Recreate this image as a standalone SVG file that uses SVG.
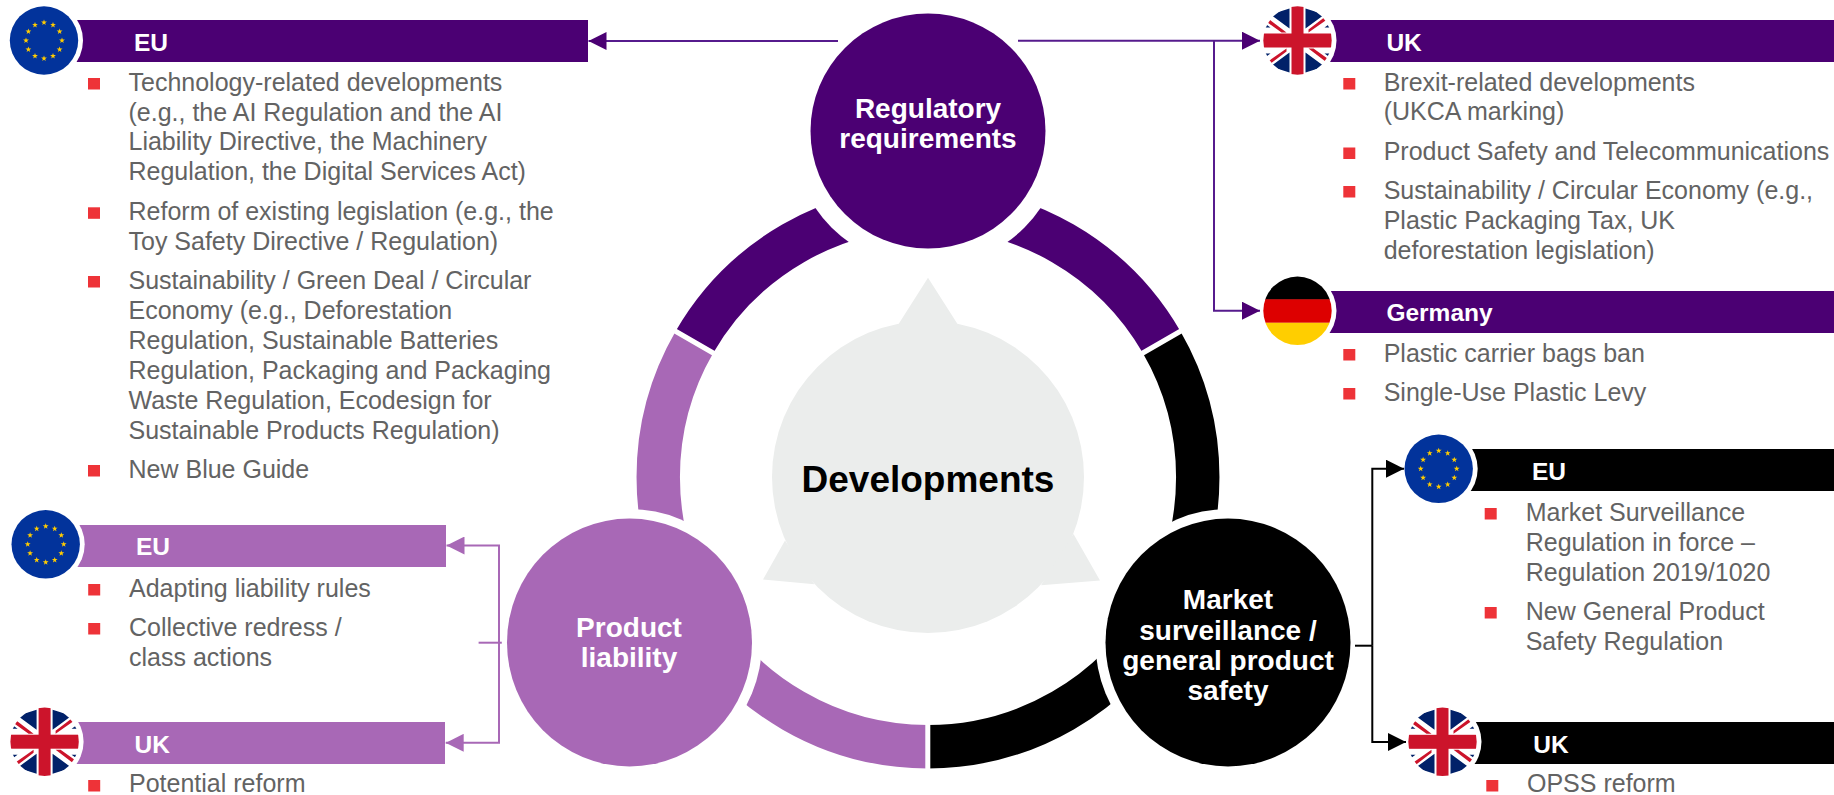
<svg xmlns="http://www.w3.org/2000/svg" width="1834" height="795" viewBox="0 0 1834 795">
<style>
text{font-family:"Liberation Sans",Arial,sans-serif}
.li{font-size:25px;fill:#636363}
.hd{font-size:24.5px;font-weight:bold;fill:#fff}
.nd{font-size:28px;font-weight:bold;fill:#fff;text-anchor:middle}
.sq{fill:#EE3338}
.dp{fill:#4B0073}.lp{fill:#A868B6}.bk{fill:#000}
.c{fill:none;stroke-width:2}
.cp{stroke:#561B8D}.cl{stroke:#A868B6}.cb{stroke:#000}
</style>
<defs>
<marker id="mp" markerUnits="userSpaceOnUse" markerWidth="18" markerHeight="18" refX="18" refY="9" orient="auto"><path d="M0 0L18 9L0 18Z" fill="#4B0073"/></marker>
<marker id="ml" markerUnits="userSpaceOnUse" markerWidth="18" markerHeight="18" refX="18" refY="9" orient="auto"><path d="M0 0L18 9L0 18Z" fill="#A868B6"/></marker>
<marker id="mb" markerUnits="userSpaceOnUse" markerWidth="18" markerHeight="18" refX="18" refY="9" orient="auto"><path d="M0 0L18 9L0 18Z" fill="#000"/></marker>
<clipPath id="fc"><circle r="34.2"/></clipPath>
<path id="st" d="M0-3L.75-1L2.9-1L1.15.4L1.8 2.5L0 1.25L-1.8 2.5L-1.15.4L-2.9-1L-.75-1Z" fill="#FFCC00"/>
<g id="eu">
<circle r="39" fill="#fff"/><circle r="34.2" fill="#02339B"/>
<use href="#st" x="0" y="-18"/><use href="#st" x="9" y="-15.6"/><use href="#st" x="15.6" y="-9"/><use href="#st" x="18" y="0"/><use href="#st" x="15.6" y="9"/><use href="#st" x="9" y="15.6"/><use href="#st" x="0" y="18"/><use href="#st" x="-9" y="15.6"/><use href="#st" x="-15.6" y="9"/><use href="#st" x="-18" y="0"/><use href="#st" x="-15.6" y="-9"/><use href="#st" x="-9" y="-15.6"/>
</g>
<g id="uk">
<circle r="39" fill="#fff"/>
<g clip-path="url(#fc)">
<rect x="-35" y="-35" width="70" height="70" fill="#fff"/>
<path d="M-8-32L-8-12L-27-26Z M8-32L8-12L27-26Z M-8 32L-8 12L-27 26Z M8 32L8 12L27 26Z M-34-13L-27-13L-34-18Z M34-13L27-13L34-18Z M-34 13L-27 13L-34 18Z M34 13L27 13L34 18Z" fill="#012169"/>
<path d="M-28-21L-11-8L-16-8L-30-18Z M28-24L11-11L11-8L31-22Z M-28 24L-11 11L-11 8L-31 22Z M28 21L11 8L16 8L30 18Z" fill="#CC142B"/>
<rect x="-35" y="-7" width="70" height="14" fill="#CC142B"/>
<rect x="-6" y="-35" width="12" height="70" fill="#CC142B"/>
</g>
</g>
<g id="de">
<circle r="39" fill="#fff"/>
<g clip-path="url(#fc)">
<rect x="-35" y="-35" width="70" height="24" fill="#000"/>
<rect x="-35" y="-11.5" width="70" height="23.5" fill="#DD0000"/>
<rect x="-35" y="12" width="70" height="24" fill="#FFCE00"/>
</g>
</g>
</defs>

<g id="ring">
<path d="M694.4 342.1A269.7 269.7 0 0 1 1161.6 342.1" fill="none" stroke="#4B0073" stroke-width="43.4"/>
<path d="M1161.6 342.1A269.7 269.7 0 0 1 928 746.7" fill="none" stroke="#000" stroke-width="43.4"/>
<path d="M928 746.7A269.7 269.7 0 0 1 694.4 342.1" fill="none" stroke="#A868B6" stroke-width="43.4"/>
<path d="M927.8 700V790M659.5 322L728.8 362M1196.5 322L1127.2 362" stroke="#fff" stroke-width="5" fill="none"/>
<circle cx="928" cy="131" r="136.5" fill="#fff"/>
<ellipse cx="629.5" cy="642.5" rx="132.5" ry="133.5" fill="#fff"/>
<ellipse cx="1228" cy="642.5" rx="132.5" ry="133.5" fill="#fff"/>
</g>

<g id="center">
<circle cx="928" cy="477" r="156" fill="#EBEDEC"/>
<path d="M928 277.8L957.5 324.1H898.6Z M763 579.6L785 540.5L814.4 584.2Z M1100 580.4L1073.5 534.1L1041 585.3Z" fill="#EBEDEC"/>
<text x="928" y="492" font-size="37" font-weight="bold" text-anchor="middle" fill="#000">Developments</text>
</g>

<g id="node-regulatory">
<circle cx="928" cy="131" r="117.5" class="dp"/>
<text class="nd" x="928" y="118">Regulatory</text>
<text class="nd" x="928" y="148">requirements</text>
</g>
<g id="node-liability">
<ellipse cx="629.5" cy="642.5" rx="122.5" ry="124" class="lp"/>
<text class="nd" x="629" y="637">Product</text>
<text class="nd" x="629" y="667">liability</text>
</g>
<g id="node-market">
<ellipse cx="1228" cy="642.5" rx="122.5" ry="124" class="bk"/>
<text class="nd" x="1228" y="608.5">Market</text>
<text class="nd" x="1228" y="639.5">surveillance /</text>
<text class="nd" x="1228" y="669.5">general product</text>
<text class="nd" x="1228" y="699.5">safety</text>
</g>

<g id="panel-reg-eu">
<rect x="60" y="20" width="528" height="42" class="dp"/>
<use href="#eu" x="44" y="40.5"/>
<text class="hd" x="134" y="50.7">EU</text>
<rect class="sq" x="88" y="78" width="12" height="11.5"/>
<text class="li" x="128.5" y="90.7">Technology-related developments</text>
<text class="li" x="128.5" y="120.5">(e.g., the AI Regulation and the AI</text>
<text class="li" x="128.5" y="150">Liability Directive, the Machinery</text>
<text class="li" x="128.5" y="180">Regulation, the Digital Services Act)</text>
<rect class="sq" x="88" y="207.3" width="12" height="11.5"/>
<text class="li" x="128.5" y="220">Reform of existing legislation (e.g., the</text>
<text class="li" x="128.5" y="250">Toy Safety Directive / Regulation)</text>
<rect class="sq" x="88" y="276" width="12" height="11.5"/>
<text class="li" x="128.5" y="289">Sustainability / Green Deal / Circular</text>
<text class="li" x="128.5" y="319">Economy (e.g., Deforestation</text>
<text class="li" x="128.5" y="349">Regulation, Sustainable Batteries</text>
<text class="li" x="128.5" y="379">Regulation, Packaging and Packaging</text>
<text class="li" x="128.5" y="409">Waste Regulation, Ecodesign for</text>
<text class="li" x="128.5" y="438.5">Sustainable Products Regulation)</text>
<rect class="sq" x="88" y="465" width="12" height="11.5"/>
<text class="li" x="128.5" y="477.5">New Blue Guide</text>
</g>

<g id="panel-reg-uk">
<rect x="1310" y="20" width="524" height="42" class="dp"/>
<use href="#uk" x="1297.5" y="40.5"/>
<text class="hd" x="1386.4" y="50.7">UK</text>
<rect class="sq" x="1343.3" y="78" width="12" height="11.5"/>
<text class="li" x="1383.7" y="90.7">Brexit-related developments</text>
<text class="li" x="1383.7" y="120">(UKCA marking)</text>
<rect class="sq" x="1343.3" y="147.5" width="12" height="11.5"/>
<text class="li" x="1383.7" y="160">Product Safety and Telecommunications</text>
<rect class="sq" x="1343.3" y="186" width="12" height="11.5"/>
<text class="li" x="1383.7" y="198.7">Sustainability / Circular Economy (e.g.,</text>
<text class="li" x="1383.7" y="228.7">Plastic Packaging Tax, UK</text>
<text class="li" x="1383.7" y="259">deforestation legislation)</text>
</g>

<g id="panel-reg-de">
<rect x="1310" y="291" width="524" height="42" class="dp"/>
<use href="#de" x="1297.5" y="310.8"/>
<text class="hd" x="1386.4" y="320.7">Germany</text>
<rect class="sq" x="1343.3" y="349" width="12" height="11.5"/>
<text class="li" x="1383.7" y="362">Plastic carrier bags ban</text>
<rect class="sq" x="1343.3" y="388" width="12" height="11.5"/>
<text class="li" x="1383.7" y="400.7">Single-Use Plastic Levy</text>
</g>

<g id="panel-liab-eu">
<rect x="60" y="525" width="386" height="42" class="lp"/>
<use href="#eu" x="45.7" y="544.3"/>
<text class="hd" x="136" y="554.7">EU</text>
<rect class="sq" x="88.2" y="584" width="12" height="11.5"/>
<text class="li" x="129" y="596.7">Adapting liability rules</text>
<rect class="sq" x="88.2" y="623" width="12" height="11.5"/>
<text class="li" x="129" y="636">Collective redress /</text>
<text class="li" x="129" y="666">class actions</text>
</g>

<g id="panel-liab-uk">
<rect x="60" y="722" width="385" height="42" class="lp"/>
<use href="#uk" x="44.6" y="741.7"/>
<text class="hd" x="134.6" y="752.7">UK</text>
<rect class="sq" x="88.2" y="780" width="12" height="11.5"/>
<text class="li" x="129" y="792.3">Potential reform</text>
</g>

<g id="panel-mkt-eu">
<rect x="1460" y="449" width="374" height="42" class="bk"/>
<use href="#eu" x="1438.7" y="468.8"/>
<text class="hd" x="1532" y="480">EU</text>
<rect class="sq" x="1484.7" y="508" width="12" height="11.5"/>
<text class="li" x="1525.7" y="520.7">Market Surveillance</text>
<text class="li" x="1525.7" y="550.7">Regulation in force –</text>
<text class="li" x="1525.7" y="580.7">Regulation 2019/1020</text>
<rect class="sq" x="1484.7" y="607" width="12" height="11.5"/>
<text class="li" x="1525.7" y="620">New General Product</text>
<text class="li" x="1525.7" y="650">Safety Regulation</text>
</g>

<g id="panel-mkt-uk">
<rect x="1460" y="722" width="374" height="42" class="bk"/>
<use href="#uk" x="1442.5" y="741.8"/>
<text class="hd" x="1533.3" y="752.7">UK</text>
<rect class="sq" x="1486.3" y="780" width="12" height="11.5"/>
<text class="li" x="1527" y="792.3">OPSS reform</text>
</g>

<g id="connectors">
<path class="c cp" d="M838 41H588.5" marker-end="url(#mp)"/>
<path class="c cp" d="M1018 40.7H1260" marker-end="url(#mp)"/>
<path class="c cp" d="M1214 40.7V310.7H1260" marker-end="url(#mp)"/>
<path class="c cl" d="M499 642.7V545.5H446.5" marker-end="url(#ml)"/>
<path class="c cl" d="M499 642.7V742.8H445.7" marker-end="url(#ml)"/>
<path class="c cl" d="M478.6 642.7H501.8"/>
<path class="c cb" d="M1372.3 645.7V468.7H1404" marker-end="url(#mb)"/>
<path class="c cb" d="M1372.3 645.7V742H1406" marker-end="url(#mb)"/>
<path class="c cb" d="M1355 645.7H1372.3"/>
</g>
</svg>
